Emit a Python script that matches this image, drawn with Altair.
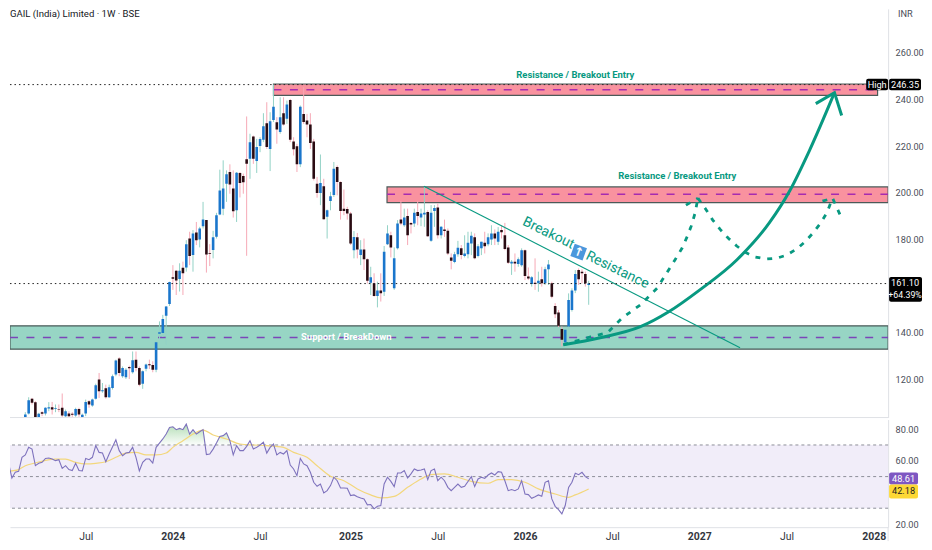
import altair as alt
import pandas as pd

# ---------- weekly candles ----------
opens = [103.6,105.4,111.7,110.3,102.9,106,105.4,107.6,108.1,107.4,107.4,107.9,104.3,105.4,105.3,104.6,107.4,103.6,105.4,110.7,108.9,111.8,120,115,116.3,112.4,116.4,122.1,129,121.4,121,125.4,123.1,128.5,124.9,118.2,124.6,126.5,126.2,124.2,139.6,139.9,147.3,152.4,163.8,166.6,163.1,167.9,168,180.4,173.3,
 183,180,185.7,188.3,174.2,175.5,181.2,190.7,193.2,203.9,208.9,201.8,192.5,208.5,207.2,214.4,214.6,224.1,213.6,220,222.7,229.8,218.8,231.2,230.2,226,234.1,231.7,239.8,222,219.9,212.2,233.8,231,229.3,222,203.9,199.9,202.8,189.7,196.5,199,211,204.6,193.2,193.1,191.1,
 175.4,180.9,173.3,175.7,171.5,161.5,161.2,155.8,158.1,157.6,178,181.8,159.1,176.2,188.5,186.1,190,187.1,186.8,191.8,189.4,190.7,191.8,179.4,192.2,193.7,181.8,184.3,183.7,172.3,170.3,173.7,176.2,172.9,173.7,178.3,180.9,172.9,176.2,178.6,178,180,182.6,179,184,181.8,176.6,169.7,170.5,169.5,169,175.4,164.1,160.9,161.5,161.2,162.9,161.2,167.2,161.2,151.5,148.7,141.6,135.9,142.7,149.8,158.1,166.9,166.2,165.2,160.5]
highs = [106,112.4,112.1,110.7,105.7,106.4,108.1,110.3,110.4,109.3,109.3,114,107.1,106.4,106,107.9,107.9,105.4,111.4,111.1,111.8,118.2,122.8,118.5,117.8,117.8,122.1,128.5,129.5,125.6,124.9,125.9,132,132,125.6,123.9,126.8,128.5,127.8,136.3,144.9,147.7,151.5,161.9,169,166.9,169.8,170.5,179.7,183.3,184,
 187.5,185.4,196.1,188.3,178,183.7,191.4,209.9,213.9,209.6,212.2,209.6,208.9,208.9,208.2,232.7,225.3,224.5,223.1,223.8,234.1,238.8,234.5,246.35,232.4,240.9,240.9,239.5,240.2,223.8,221,237.4,245.2,233.8,234.1,223.1,206.8,216.4,206,192.8,200.4,213.2,211.7,204.9,201.4,194,191.8,
 183.6,182.8,179.7,180.4,171.9,168.3,165.5,161.9,165.5,177.2,186.1,183.3,176.6,188.3,196.5,193.2,193.2,187.5,193.2,196.5,193.2,202.5,192.5,194.7,194.7,195.4,185.7,188.5,184.7,174,174.7,179.4,177.6,181.8,183.3,183.3,182.6,178,179,183.3,182.6,186.1,184.3,185.3,186.1,187.1,177.6,171.2,174,172.3,176.2,175.7,168,164.3,171.9,166.2,168.3,168.3,171.2,161.9,152.7,149.8,142.7,141.3,156.9,159.1,166.9,167.6,167.2,166.2,162.3]
lows = [103,105,109.3,102.6,102.6,104.3,104.6,106.4,105,106,106,103.6,103.6,103.6,104,104,104,103,104.3,107.9,108.3,111.4,112.1,114.3,111.8,112.1,115.7,121.4,121.4,120.7,120.2,120.2,122.5,123.5,117.1,116,123.5,124.5,123.1,123.1,137.3,138.2,134.9,151.5,158.4,156.2,157.7,156.2,166.2,169,166.2,
 177.6,176.6,184.7,165.8,168.6,171.9,180.4,190.4,190.4,196.1,199.6,189.4,187.5,198,199.6,173,206,212.4,208.5,217.4,221.7,218.8,209.3,230.3,221,225.3,228.8,229.5,221.7,216,208.9,211,229.5,223.8,218.8,205.3,197.9,194.7,188.5,180.4,192.5,198.2,198.9,188.5,190.4,188.5,177.6,
 171.9,171.9,169,166.9,161.2,156.2,155.5,150.9,153.4,155.8,177.6,172.3,158.4,175.7,186.1,185.4,177.6,182.6,185.4,186.1,185.7,185.4,181.1,179,185.4,180.4,180.4,181.1,173.3,167.2,169.8,172.6,171.5,172.3,171.9,173.3,171.5,172.3,173.3,174,177.1,177.6,177.6,177.6,180.4,175.4,169.5,164.8,166.2,168.3,168.3,162.6,162.6,159.8,158.4,157.6,159.8,160.5,160.5,154.8,146.3,142.4,134.2,135.6,141.3,149.1,157,160.5,161.2,159.8,152]
closes = [105,111.1,110,102.9,105.3,105.3,107.9,108.1,107.1,107.7,107.1,104.6,106.4,104.3,104.9,107.4,105,104.9,110.4,109.3,111.4,117.5,115,115.4,112.4,116.7,121.4,128.1,122.8,124.9,124.2,124.8,128.2,124.9,117.8,123.5,126.4,126.1,124.2,136,140.2,145.9,151.3,161.8,163.2,162.4,166.6,165.5,178,172.9,182.6,
 179.7,184.7,188.5,173.6,173.9,180.9,190.4,201,201.8,207.9,203.6,192.1,208.6,204.2,204.5,212.4,221.7,214.6,219.6,223,228.5,219.6,230.7,236.9,227.1,232.4,229.3,237.8,222.7,218.6,212.2,236.9,230.3,229.3,221.3,206,199.9,204.2,188.7,192.5,198.5,210.3,204.6,192.2,192.2,191.1,178.3,
 181.1,175.7,175.7,171.5,162.3,163.8,155.8,158.1,156.9,174.7,182.6,176.6,171.9,186.8,186.8,189.4,181.8,186.4,191.4,190,191.1,191.4,181.4,191.4,193.5,181.8,185.4,183.6,174,170.9,173.7,176.4,173.3,174,178.6,181.6,171.9,177.1,179,177.1,180.9,182.6,180.4,183.3,183.1,175.9,170,170.5,169.7,171.5,175.4,164.3,163.3,163.8,160.9,162.3,161.2,167.2,169.3,155.5,148,143,137,141.3,154.1,158.1,165.2,162.9,165.5,161.2,161.1]

# ---------- RSI panel (week number counted from 2023-01-09, value) ----------
rsi_start = "2023-01-09"
rsi_week = [0,1,2,3,4,5,6,7,8,9,10,11,12,13,14,15,16,17,18,19,20,21,22,23,24,25,26,27,28,29,30,31,32,34,35,36,37,38,39,40,41,42,43,44,45,46,47,48,49,50,51,52,53,54,55,56,57,58,59,60,61,62,63,64,65,66,67,68,69,70,71,72,73,74,75,76,77,78,79,80,81,82,83,84,85,86,87,88,89,90,91,92,93,94,95,96,97,98,
 99,100,101,102,103,104,105,106,107,108,109,110,111,112,113,114,115,116,117,118,119,120,121,122,123,124,125,126,127,128,129,130,131,132,133,134,135,136,137,138,140,141,142,143,144,145,146,147,148,149,150,151,152,153,154,155,156,157,158,159,160,161,162,163,164,165,166,167,168,169,170,171,172,173,174,175]
rsi_value = [56.9,58.6,58.6,49.1,52.7,53.3,62.2,63.7,68.5,67.4,56.9,58.4,59,61.5,61.8,61.1,60.1,60.7,55.2,56.9,54.4,53.8,58.4,53.8,53.6,61.5,60.7,62.2,69.6,65.3,64.9,59.4,64.3,73.3,66.4,63.2,64.9,65.3,68.5,62.2,53.6,59,61.1,61.1,58.6,68.5,71.2,73.8,76.9,81.1,81.5,79.7,80.5,79.7,83.2,76.9,79.7,76.9,78.4,79.7,63.9,64.3,67.4,71.2,75.4,75.9,77.6,72.7,63.7,69.6,66.4,66.4,69.1,72.7,67.4,68.5,70,71.7,64.9,68.5,70.6,63.7,65.3,64.3,66.4,57.3,54.8,50.6,61.5,58,56.9,52.7,46.4,43.9,45.3,39.7,41.1,44.3,
 49.6,47.4,42.8,42.8,42.6,38,38.4,37.3,36.5,35.9,32.1,32.3,29.6,31.2,31.7,45.3,49.6,47,43.7,52.3,52.3,53.8,49.1,51.7,54.8,53.8,54.2,54.8,48.1,53.8,54.8,47.4,49.6,47.4,43.2,41.1,43.2,45.3,43.2,43.9,50,43.7,48.5,49.6,48.9,51,52.3,51,53.1,52.7,47.4,41.1,41.8,41.1,42.2,47.4,39,38.6,36.3,37.3,38.4,37.5,46.4,47.4,35.9,31.2,29.1,26.4,31.7,43.2,46.4,52.1,51.2,52.7,50,48.6]
ma_week = [0,2,5,7,10,13,16,19,22,25,28,31,34,37,40,43,46,49,51,54,57,60,63,67,71,75,79,84,87,91,94,98,102,106,110,113,117,121,125,128,132,136,140,145,148,152,156,160,165,169,171,175]
ma_value = [50,53.1,54.4,56.9,58.6,60.3,61.1,61.1,59,58,58.4,59.4,62.2,64.9,65.3,63.7,63.7,64.9,68.5,72.7,76.9,79.4,76.3,73.8,70.6,70,69.6,68.5,65.3,62.2,56.9,50.2,47.4,42.2,38.4,36.5,37.5,43.2,48.5,51.2,51.7,49.6,47,45.8,48.1,48.1,46.4,42.2,39,36.9,38.4,42.18]

# ---------- drawings ----------
curve_dates = ["2026-03-26","2026-06-11","2026-09-03","2026-11-01","2027-01-05","2027-03-23","2027-05-31","2027-07-12","2027-08-22","2027-10-13"]
curve_prices = [134.9,137.9,142.6,149,158.4,171.2,187.4,201,218.2,242.9]
head_dates = ["2027-09-04","2027-10-13","2027-10-28"]
head_prices = [238.2,242.9,233.1]
dash1_dates = ["2026-03-26","2026-05-22","2026-06-26","2026-07-27","2026-09-03","2026-10-08","2026-11-14","2026-11-29","2026-12-09","2026-12-18","2026-12-26","2027-01-01"]
dash1_prices = [134.9,138.3,140,146.4,152,159.2,171.2,176.3,181,185.7,191.3,197.7]
dash2_dates = ["2027-01-01","2027-01-16","2027-02-01","2027-02-16","2027-03-05","2027-03-23","2027-04-09","2027-04-30","2027-05-23","2027-06-15","2027-07-05","2027-07-26","2027-08-12","2027-08-29","2027-09-14","2027-09-27","2027-10-09","2027-10-28"]
dash2_prices = [197.7,193.4,188.3,184.4,180.6,177.2,174.6,172.5,171.6,172,173.3,175.9,178.9,182.7,187,191.3,197.7,189.1]
dash3_dates = ["2026-12-07","2027-01-01"]
dash3_prices = [194.7,197.7]
dash4_dates = ["2027-09-18","2027-10-09"]
dash4_prices = [196.4,197.7]

zone_names = ["upper","middle","lower"]
zone_start = ["2024-07-29","2025-03-23","2023-01-26"]
zone_end = ["2028-01-11","2028-02-02","2028-02-02"]
zone_top = [246.6,202.5,143]
zone_bottom = [241.7,195.8,133]
zone_mid = [244.1,199.4,138]
zone_fill = ["#f9929f","#f9929f","#97d5c4"]
zone_dash = ["#a62bb0","#a62bb0","#7b45b8"]

trend_dates = ["2025-06-08","2027-03-30"]
trend_prices = [202.8,133.6]

tick_dates = ["2023-07-03","2024-01-01","2024-07-01","2025-01-06","2025-07-07","2026-01-05","2026-07-06","2027-01-04","2027-07-05","2028-01-03"]
price_ticks = [260,240,220,200,180,140,120]
rsi_ticks = [80,60,20]

GREEN = "#089981"
FONT = "Roboto"
LABEL = "#4a4e59"
SIDE = 9.2

def ms(s):
    return int(pd.Timestamp(s).value // 10**6)

x_scale = alt.Scale(type="utc", domain=[ms("2023-01-26"), ms("2028-02-02")], nice=False, padding=0)
p_scale = alt.Scale(domain=[103.7, 278.8], nice=False, zero=False)
r_scale = alt.Scale(domain=[18, 86.1], nice=False, zero=False)

P_AXIS = alt.Axis(orient="right", values=price_ticks, format=".2f", tickSize=0, labelPadding=7, grid=False, title=None,
                  domainColor="#dfe1e6", labelColor=LABEL, labelFont=FONT, labelFontSize=SIDE)
R_AXIS = alt.Axis(orient="right", values=rsi_ticks, format=".2f", tickSize=0, labelPadding=7, grid=False, title=None,
                  domainColor="#dfe1e6", labelColor=LABEL, labelFont=FONT, labelFontSize=SIDE)
T_AXIS = alt.Axis(values=[ms(d) for d in tick_dates], tickSize=0, labelPadding=4, grid=False, title=None,
                  labelExpr="utcmonth(datum.value)==0 ? utcyear(datum.value) : 'Jul'",
                  labelFontWeight={"condition": {"test": "utcmonth(datum.value)==0", "value": "bold"}, "value": "normal"},
                  labelColor="#333740", labelFont=FONT, labelFontSize=10.5, labelOverlap=False, labelFlush=False,
                  domainColor="#dfe1e6")

def PX(f="date"):
    return alt.X(f"{f}:T", scale=x_scale, axis=None)
def PY(f="price"):
    return alt.Y(f"{f}:Q", scale=p_scale, axis=P_AXIS)
def RX(f="date"):
    return alt.X(f"{f}:T", scale=x_scale, axis=T_AXIS)
def RY(f="rsi"):
    return alt.Y(f"{f}:Q", scale=r_scale, axis=R_AXIS)

# ---------- price pane ----------
dates = pd.date_range(end="2026-05-18", periods=len(closes), freq="7D").strftime("%Y-%m-%d")
candles = pd.DataFrame({"date": dates, "open": opens, "high": highs, "low": lows, "close": closes})
candles["wick"] = ["#93d2c6" if c >= o else "#f6a9b6" for o, c in zip(opens, closes)]
candles["body"] = ["#1a76cc" if c >= o else "#2a0b12" for o, c in zip(opens, closes)]

zones = pd.DataFrame({"name": zone_names, "start": zone_start, "end": zone_end, "top": zone_top,
                      "bottom": zone_bottom, "mid": zone_mid, "fill": zone_fill, "dash": zone_dash})

zone_rect = alt.Chart(zones).mark_rect(stroke="#4b5a58", strokeWidth=1.2, clip=True).encode(
    x=PX("start"), x2="end:T", y=PY("top"), y2="bottom:Q",
    fill=alt.Fill("fill:N", scale=None))
zone_rows = []
for _, z in zones.iterrows():
    zone_rows += [{"name": z["name"], "date": z["start"], "price": z["mid"], "dash": z["dash"]},
                  {"name": z["name"], "date": z["end"], "price": z["mid"], "dash": z["dash"]}]
zone_line = alt.Chart(pd.DataFrame(zone_rows)).mark_line(strokeDash=[8, 8.5], strokeWidth=1.5, clip=True).encode(
    x=PX(), y=PY(), detail="name:N", color=alt.Color("dash:N", scale=None))

wicks = alt.Chart(candles).mark_rule(strokeWidth=1, clip=True).encode(
    x=PX(), y=PY("high"), y2="low:Q", color=alt.Color("wick:N", scale=None))
bodies = alt.Chart(candles).mark_bar(size=2.6, clip=True).encode(
    x=PX(), y=PY("open"), y2="close:Q", color=alt.Color("body:N", scale=None))

def line_df(d, p, **kw):
    return pd.DataFrame({"date": d, "price": p, **kw})

trend = alt.Chart(line_df(trend_dates, trend_prices)).mark_line(color=GREEN, strokeWidth=1.1).encode(x=PX(), y=PY())
curve = alt.Chart(line_df(curve_dates, curve_prices)).mark_line(color=GREEN, strokeWidth=3, interpolate="monotone").encode(x=PX(), y=PY())
head = alt.Chart(line_df(head_dates, head_prices)).mark_line(color=GREEN, strokeWidth=3).encode(x=PX(), y=PY())
dashed = [alt.Chart(line_df(d, p)).mark_line(color=GREEN, strokeWidth=2.8, strokeDash=[5, 7]).encode(x=PX(), y=PY())
          for d, p in [(dash1_dates, dash1_prices), (dash2_dates, dash2_prices), (dash3_dates, dash3_prices), (dash4_dates, dash4_prices)]]

level_high = alt.Chart(line_df(["2023-01-26", "2028-01-15"], [246.35, 246.35])).mark_line(
    color="#222222", strokeWidth=1, strokeDash=[1.5, 3]).encode(x=PX(), y=PY())
level_last = alt.Chart(line_df(["2023-01-26", "2028-02-02"], [161.1, 161.1])).mark_line(
    color="#222222", strokeWidth=1, strokeDash=[1.5, 3]).encode(x=PX(), y=PY())

notes = pd.DataFrame({
    "date": ["2026-04-20", "2026-11-19", "2024-12-28"],
    "price": [250.6, 207, 138],
    "label": ["Resistance / Breakout Entry", "Resistance / Breakout Entry", "Support / BreakDown"],
    "tone": [GREEN, GREEN, "#ffffff"],
})
note_text = alt.Chart(notes).mark_text(font=FONT, fontSize=9.5, fontWeight="bold").encode(
    x=PX(), y=PY(), text="label:N", color=alt.Color("tone:N", scale=None))
slanted = pd.DataFrame({"date": ["2026-02-23", "2026-07-17"], "price": [182.7, 166.9], "label": ["Breakout", "Resistance"]})
slant_text = alt.Chart(slanted).mark_text(font=FONT, fontSize=14, angle=26, color=GREEN).encode(x=PX(), y=PY(), text="label:N")
icon_df = line_df(["2026-04-27"], [174.6], label=["↑"])
icon_box = alt.Chart(icon_df).mark_point(shape="square", size=170, filled=True, opacity=1, color="#4a97dc", angle=20).encode(x=PX(), y=PY())
icon_txt = alt.Chart(icon_df).mark_text(font="DejaVu Sans", fontSize=12, fontWeight="bold", color="#ffffff", angle=20).encode(x=PX(), y=PY(), text="label:N")

def flag(y_enc, x0, x1, top, bottom, fill):
    d = pd.DataFrame({"top": [top], "bottom": [bottom]})
    return alt.Chart(d).mark_rect(fill=fill, cornerRadius=2).encode(
        x=alt.value(x0), x2=alt.value(x1), y=y_enc("top"), y2="bottom:Q")

def flag_text(y_enc, xpos, val, label, color, align="center", size=SIDE):
    d = pd.DataFrame({"v": [val], "label": [label]})
    return alt.Chart(d).mark_text(font=FONT, fontSize=size, color=color, align=align).encode(
        x=alt.value(xpos), y=y_enc("v"), text="label:N")

flags_top = [
    flag(PY, 859, 881, 248.9, 243.9, "#000000"),
    flag(PY, 882, 914, 248.9, 243.9, "#000000"),
    flag_text(PY, 870, 246.35, "High", "#ffffff"),
    flag_text(PY, 898, 246.35, "246.35", "#ffffff"),
    flag(PY, 882, 915, 163.9, 153.3, "#000000"),
    flag_text(PY, 898, 161.3, "161.10", "#ffffff"),
    flag_text(PY, 898, 156.1, "+64.39%", "#ffffff", size=8.8),
]

title_mark = alt.Chart(pd.DataFrame({"label": ["GAIL (India) Limited · 1W · BSE"]})).mark_text(
    font=FONT, fontSize=9.6, align="left", baseline="middle", color="#131722").encode(
    x=alt.value(0), y=alt.value(5), text="label:N")
inr_mark = alt.Chart(pd.DataFrame({"label": ["INR"]})).mark_text(
    font=FONT, fontSize=SIDE, align="left", baseline="middle", color=LABEL).encode(
    x=alt.value(891), y=alt.value(5), text="label:N")
sep = alt.Chart(pd.DataFrame({"a": [1]})).mark_rule(color="#dfe1e6", strokeWidth=1).encode(
    x=alt.value(0), x2=alt.value(881), y=alt.value(410))

price_pane = alt.layer(
    zone_rect, zone_line, wicks, bodies, trend, curve, head, *dashed,
    level_high, level_last, note_text, slant_text, icon_box, icon_txt, sep, title_mark, inr_mark, *flags_top,
).properties(width=881, height=410)

# ---------- RSI pane ----------
start = pd.Timestamp(rsi_start)
rsi_df = pd.DataFrame({"date": [(start + pd.Timedelta(weeks=w)).strftime("%Y-%m-%d") for w in rsi_week], "rsi": rsi_value})
ma_df = pd.DataFrame({"date": [(start + pd.Timedelta(weeks=w)).strftime("%Y-%m-%d") for w in ma_week], "rsi": ma_value})

band = alt.Chart(pd.DataFrame({"start": ["2023-01-26"], "end": ["2028-02-02"], "top": [70], "bottom": [30]})).mark_rect(
    fill="#f1edf9").encode(x=RX("start"), x2="end:T", y=RY("top"), y2="bottom:Q")
levels = alt.Chart(pd.DataFrame({"rsi": [70, 50, 30]})).mark_rule(color="#8d8f99", strokeWidth=1, strokeDash=[3, 3]).encode(y=RY())

hot = rsi_df[(rsi_df["date"] >= "2023-12-04") & (rsi_df["date"] <= "2024-06-01")].copy()
hot["rsi"] = hot["rsi"].clip(lower=70)
hot["base"] = 70
hot_area = alt.Chart(hot).mark_area(
    color=alt.Gradient(gradient="linear", x1=1, x2=1, y1=0, y2=1, stops=[
        alt.GradientStop(color="rgba(76,175,80,0.42)", offset=0),
        alt.GradientStop(color="rgba(76,175,80,0.02)", offset=1)])).encode(
    x=RX(), y=RY(), y2="base:Q")
rsi_line = alt.Chart(rsi_df).mark_line(color="#7e72bd", strokeWidth=1.1, clip=True).encode(x=RX(), y=RY())
ma_line = alt.Chart(ma_df).mark_line(color="#f3d77c", strokeWidth=1.2, interpolate="monotone", clip=True).encode(x=RX(), y=RY())

foot = alt.Chart(pd.DataFrame({"a": [1]})).mark_rule(color="#dfe1e6", strokeWidth=1).encode(
    x=alt.value(881), y=alt.value(108), y2=alt.value(122))

flags_low = [
    flag(RY, 882, 911, 52.6, 45, "#7e57c2"),
    flag_text(RY, 896.5, 48.61, "48.61", "#ffffff"),
    flag(RY, 882, 911, 45, 36.2, "#fdd835"),
    flag_text(RY, 896.5, 40.6, "42.18", "#222222"),
]

rsi_pane = alt.layer(band, levels, hot_area, ma_line, rsi_line, foot, *flags_low).properties(width=881, height=108)

chart = alt.vconcat(price_pane, rsi_pane, spacing=1).properties(
    padding={"left": 0, "right": 0, "top": 0, "bottom": 0},
    background="#ffffff",
).configure_view(strokeWidth=0)
chart.save("out.html", embed_options={"renderer": "svg", "actions": False})
